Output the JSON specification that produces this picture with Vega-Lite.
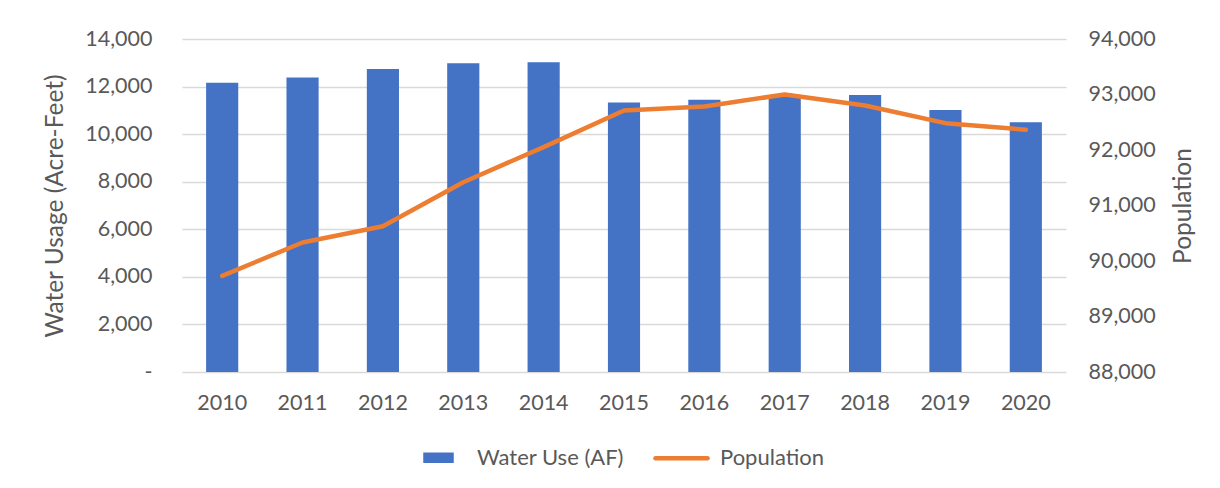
{
  "$schema": "https://vega.github.io/schema/vega-lite/v6.json",
  "width": 884,
  "height": 333,
  "autosize": {"type": "none"},
  "padding": {"left": 182, "top": 39, "right": 154, "bottom": 116},
  "background": "white",
  "data": {
    "values": [
      {"year": "2010", "water": 12160, "pop": 89732},
      {"year": "2011", "water": 12385, "pop": 90333},
      {"year": "2012", "water": 12735, "pop": 90626},
      {"year": "2013", "water": 12985, "pop": 91420},
      {"year": "2014", "water": 13027, "pop": 92052},
      {"year": "2015", "water": 11335, "pop": 92712},
      {"year": "2016", "water": 11447, "pop": 92784},
      {"year": "2017", "water": 11620, "pop": 93000},
      {"year": "2018", "water": 11644, "pop": 92802},
      {"year": "2019", "water": 11015, "pop": 92484},
      {"year": "2020", "water": 10495, "pop": 92365}
    ]
  },
  "encoding": {
    "x": {
      "field": "year",
      "type": "ordinal",
      "scale": {"paddingInner": 0.6, "paddingOuter": 0.3},
      "axis": {
        "title": null,
        "labelAngle": 0,
        "labelPadding": 20,
        "ticks": false,
        "domain": false,
        "labelFontSize": 21.5,
        "labelColor": "#595959",
        "labelFont": "Lato"
      }
    }
  },
  "layer": [
    {
      "mark": {"type": "bar"},
      "encoding": {
        "y": {
          "field": "water",
          "type": "quantitative",
          "scale": {"domain": [0, 14000], "nice": false},
          "axis": {
            "title": "Water Usage (Acre-Feet)",
            "values": [0, 2000, 4000, 6000, 8000, 10000, 12000, 14000],
            "labelExpr": "datum.value == 0 ? '-\u00a0\u00a0' : format(datum.value, ',')",
            "grid": true,
            "gridColor": "#d9d9d9",
            "gridWidth": 1.5,
            "ticks": false,
            "domain": false,
            "labelPadding": 30,
            "titlePadding": 17,
            "labelFontSize": 21.5,
            "labelColor": "#595959",
            "labelFont": "Lato",
            "titleFont": "Lato",
            "titleFontSize": 24.5,
            "titleFontWeight": "normal",
            "titleColor": "#595959"
          }
        },
        "color": {
          "datum": "Water Use (AF)",
          "type": "nominal",
          "scale": {"domain": ["Water Use (AF)", "Population"], "range": ["#4472c4", "#ed7d31"]},
          "legend": {
            "title": null,
            "orient": "none",
            "direction": "horizontal",
            "legendX": 228,
            "legendY": 390,
            "padding": 0,
            "columnPadding": 22,
            "symbolSize": 2704,
            "labelOffset": 10,
            "labelFontSize": 22,
            "labelColor": "#595959",
            "labelFont": "Lato",
            "encode": {
              "symbols": {
                "update": {
                  "shape": {"signal": "datum.value === 'Population' ? 'stroke' : 'M-0.5,-0.115H0.5V0.115H-0.5Z'"},
                  "fill": {"signal": "datum.value === 'Population' ? 'transparent' : '#4472c4'"},
                  "stroke": {"signal": "datum.value === 'Population' ? '#ed7d31' : 'transparent'"},
                  "strokeWidth": {"value": 4.5},
                  "strokeCap": {"value": "round"},
                  "opacity": {"value": 1},
                  "fillOpacity": {"value": 1},
                  "strokeOpacity": {"value": 1}
                }
              }
            }
          }
        }
      }
    },
    {
      "mark": {"type": "line", "strokeWidth": 4.5, "strokeCap": "round", "strokeJoin": "round"},
      "encoding": {
        "y": {
          "field": "pop",
          "type": "quantitative",
          "scale": {"domain": [88000, 94000], "nice": false, "zero": false},
          "axis": {
            "orient": "right",
            "title": "Population",
            "titleAngle": 270,
            "titleBaseline": "top",
            "values": [88000, 89000, 90000, 91000, 92000, 93000, 94000],
            "labelExpr": "format(datum.value, ',')",
            "grid": false,
            "ticks": false,
            "domain": false,
            "labelPadding": 22,
            "titlePadding": 16,
            "labelFontSize": 21.5,
            "labelColor": "#595959",
            "labelFont": "Lato",
            "titleFont": "Lato",
            "titleFontSize": 24.5,
            "titleFontWeight": "normal",
            "titleColor": "#595959"
          }
        },
        "color": {
          "datum": "Population",
          "type": "nominal"
        }
      }
    }
  ],
  "resolve": {"scale": {"y": "independent"}},
  "config": {
    "view": {"stroke": null}
  }
}
